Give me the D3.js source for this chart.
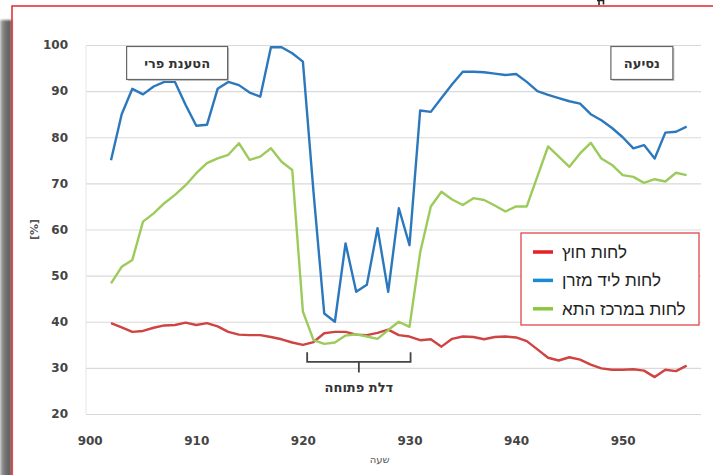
<!DOCTYPE html>
<html>
<head>
<meta charset="utf-8">
<script src="https://cdn.jsdelivr.net/npm/d3@7"></script>
<style>
  body { margin: 0; background: #fff; }
  svg { display: block; }
  .tick text { font-family: "DejaVu Sans", sans-serif; font-weight: bold; font-size: 12px; fill: #444; }
</style>
</head>
<body>
<div id="chart"></div>
<script>
'use strict';

// minutes (x axis) - one reading per minute
var times = d3.range(902, 957);

// outside humidity
var outside = [39.7, 38.8, 37.8, 38.0, 38.7, 39.2, 39.3, 39.8, 39.3, 39.7,
  39.0, 37.8, 37.2, 37.1, 37.1, 36.7, 36.2, 35.5, 35.0, 35.6,
  37.5, 37.8, 37.8, 37.2, 37.1, 37.6, 38.3, 37.1, 36.8, 36.0,
  36.2, 34.6, 36.3, 36.8, 36.7, 36.2, 36.7, 36.8, 36.6, 35.8,
  34.0, 32.2, 31.6, 32.3, 31.8, 30.7, 29.9, 29.6, 29.6, 29.7,
  29.4, 28.0, 29.6, 29.3, 30.5];

// humidity next to the mattress
var mattress = [75.0, 85.0, 90.5, 89.3, 91.0, 92.0, 92.0, 87.0, 82.5, 82.7,
  90.5, 92.0, 91.3, 89.7, 88.8, 99.5, 99.5, 98.2, 96.4, 68.0,
  41.8, 40.0, 57.0, 46.5, 48.0, 60.3, 46.5, 64.6, 56.6, 85.8,
  85.5, 88.5, 91.5, 94.2, 94.2, 94.1, 93.8, 93.5, 93.7, 92.0,
  90.0, 89.2, 88.5, 87.8, 87.3, 85.0, 83.7, 82.0, 80.0, 77.6,
  78.3, 75.4, 81.0, 81.2, 82.3];

// humidity in the middle of the cell
var center = [48.3, 51.9, 53.4, 61.7, 63.5, 65.7, 67.5, 69.6, 72.2, 74.4,
  75.4, 76.2, 78.7, 75.1, 75.8, 77.6, 74.7, 72.9, 42.2, 36.0,
  35.2, 35.5, 37.0, 37.3, 36.8, 36.3, 38.2, 40.0, 38.9, 55.0,
  65.0, 68.2, 66.5, 65.3, 66.8, 66.4, 65.2, 63.9, 65.0, 65.0,
  71.5, 78.0, 75.8, 73.6, 76.5, 78.8, 75.4, 74.0, 71.8, 71.4,
  70.1, 70.9, 70.4, 72.3, 71.8];

var seriesNames = ['לחות חוץ', 'לחות ליד מזרן', 'לחות במרכז התא'];
var lineColors = ['#cf4343', '#2c78bd', '#9ccb5b'];
var swatchColors = ['#e41f26', '#1a8ad6', '#8cc63f'];

var xTicks = [900, 910, 920, 930, 940, 950];
var yTicks = [20, 30, 40, 50, 60, 70, 80, 90, 100];

// annotations
var loadLabel = 'הטענת פרי';
var driveLabel = 'נסיעה';
var doorLabel = 'דלת פתוחה';
var doorStart = 920.4, doorEnd = 930.1;

var W = 713, H = 475;
var plot = { left: 86, right: 701, top: 45, bottom: 414 };

var svg = d3.select('#chart').append('svg')
  .attr('width', W)
  .attr('height', H);

var defs = svg.append('defs');
var grad = defs.append('linearGradient').attr('id', 'shade');
grad.append('stop').attr('offset', '0').attr('stop-color', '#b4b4b4');
grad.append('stop').attr('offset', '0.35').attr('stop-color', '#7a7a7a');
grad.append('stop').attr('offset', '0.85').attr('stop-color', '#5c5c5c');
grad.append('stop').attr('offset', '1').attr('stop-color', '#8a8a8a');
defs.append('filter').attr('id', 'soft')
  .append('feGaussianBlur').attr('stdDeviation', 1.2);

svg.append('rect').attr('width', W).attr('height', H).attr('fill', '#fff');

// page shadow + red frame
svg.append('rect')
  .attr('x', 0).attr('y', 20).attr('width', 12).attr('height', H)
  .attr('fill', 'url(#shade)')
  .attr('filter', 'url(#soft)');
svg.append('path')
  .attr('d', 'M12,' + H + 'V6H' + W)
  .attr('fill', 'none')
  .attr('stroke', '#e3262d')
  .attr('stroke-width', 1.5);

// bit of a letter from the page above, cut by the frame
svg.append('path')
  .attr('d', 'M597,0.5H603.5V4.5M599,0.5V5')
  .attr('fill', 'none')
  .attr('stroke', '#222')
  .attr('stroke-width', 1.6);

var x = d3.scaleLinear().domain([900, 950]).range([89.7, 622.7]);
var y = d3.scaleLinear().domain([20, 100]).range([plot.bottom, plot.top]);

// y axis with gridlines
var yAxis = d3.axisLeft(y)
  .tickValues(yTicks)
  .tickSize(-(plot.right - plot.left))
  .tickPadding(18);

var gy = svg.append('g')
  .attr('transform', 'translate(' + plot.left + ',0)')
  .call(yAxis);
gy.select('.domain').remove();
gy.selectAll('.tick line').attr('stroke', '#d9d9d9').attr('stroke-width', 1.2);

// left edge of the plot area
svg.append('line')
  .attr('x1', plot.left).attr('x2', plot.left)
  .attr('y1', plot.top).attr('y2', plot.bottom)
  .attr('stroke', '#e6e6e6');

var xAxis = d3.axisBottom(x)
  .tickValues(xTicks)
  .tickSize(0)
  .tickPadding(22);

var gx = svg.append('g')
  .attr('transform', 'translate(0,' + plot.bottom + ')')
  .call(xAxis);
gx.select('.domain').remove();

// axis titles
svg.append('text')
  .attr('transform', 'translate(38,' + y(60) + ') rotate(-90)')
  .attr('text-anchor', 'middle')
  .attr('font-family', 'DejaVu Sans, sans-serif')
  .attr('font-weight', 'bold')
  .attr('font-size', 11)
  .attr('fill', '#555')
  .text('[%]');

svg.append('text')
  .attr('x', x(927.2)).attr('y', 463)
  .attr('text-anchor', 'middle')
  .attr('font-family', 'DejaVu Sans, sans-serif')
  .attr('font-size', 10)
  .attr('fill', '#555')
  .text('שעה');

// lines
var line = d3.line()
  .x(function (d, i) { return x(times[i]); })
  .y(function (d) { return y(d); });

[outside, mattress, center].forEach(function (values, i) {
  svg.append('path')
    .attr('d', line(values))
    .attr('fill', 'none')
    .attr('stroke', lineColors[i])
    .attr('stroke-width', 2.4)
    .attr('stroke-linejoin', 'round');
});

// annotation boxes
function noteBox(cx, cy, w, h, label) {
  var g = svg.append('g');
  g.append('rect')
    .attr('x', cx - w / 2 + 1.5).attr('y', cy - h / 2 + 1.5)
    .attr('width', w).attr('height', h)
    .attr('fill', '#c8c8c8');
  g.append('rect')
    .attr('x', cx - w / 2).attr('y', cy - h / 2)
    .attr('width', w).attr('height', h)
    .attr('fill', '#fff')
    .attr('stroke', '#666')
    .attr('stroke-width', 1.2);
  g.append('text')
    .attr('x', cx).attr('y', cy + 5)
    .attr('text-anchor', 'middle')
    .attr('font-family', 'DejaVu Sans, sans-serif')
    .attr('font-weight', 'bold')
    .attr('font-size', 13)
    .attr('fill', '#333')
    .text(label);
}

noteBox(x(908.2), y(96.1), 101, 33, loadLabel);
noteBox(x(951.8), y(96.1), 62, 33, driveLabel);

// open door bracket
var bx0 = x(doorStart), bx1 = x(doorEnd), bmid = (bx0 + bx1) / 2;
var bTop = y(33.4), bBot = y(31.3), bTick = y(29.0);
svg.append('path')
  .attr('d', 'M' + bx0 + ',' + bTop + 'V' + bBot + 'H' + bx1 + 'V' + bTop +
    'M' + bmid + ',' + bBot + 'V' + bTick)
  .attr('fill', 'none')
  .attr('stroke', '#454545')
  .attr('stroke-width', 1.8);
svg.append('text')
  .attr('x', bmid).attr('y', 392)
  .attr('text-anchor', 'middle')
  .attr('font-family', 'DejaVu Sans, sans-serif')
  .attr('font-weight', 'bold')
  .attr('font-size', 13)
  .attr('fill', '#333')
  .text(doorLabel);

// legend
var legend = svg.append('g').attr('transform', 'translate(521,233)');
legend.append('rect')
  .attr('width', 178).attr('height', 92)
  .attr('fill', '#fff')
  .attr('stroke', '#e0454a')
  .attr('stroke-width', 1.3);

seriesNames.forEach(function (name, i) {
  var row = legend.append('g').attr('transform', 'translate(0,' + (19 + i * 28.4) + ')');
  row.append('line')
    .attr('x1', 12).attr('x2', 32)
    .attr('stroke', swatchColors[i])
    .attr('stroke-width', 3.5);
  row.append('text')
    .attr('x', 41).attr('y', 6)
    .attr('font-family', 'Liberation Sans, Arial, sans-serif')
    .attr('font-size', 17)
    .attr('fill', '#222')
    .text(name);
});
</script>
</body>
</html>
